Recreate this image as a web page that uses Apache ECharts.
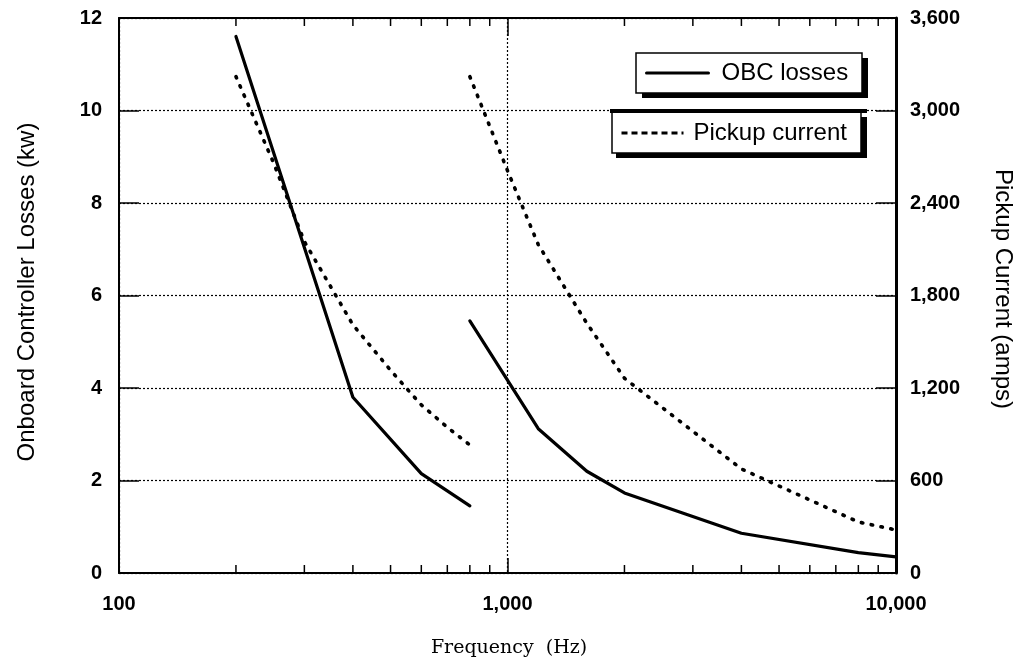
<!DOCTYPE html>
<html>
<head>
<meta charset="utf-8">
<script src="https://cdn.jsdelivr.net/npm/echarts@6/dist/echarts.min.js"></script>
<style>
  html, body { margin: 0; padding: 0; background: #fff; }
  #chart { width: 1023px; height: 663px; }
</style>
</head>
<body>
<div id="chart"></div>
<script>
// Onboard controller losses (kW) versus supply frequency (Hz), two operating bands
const obcFreqLow = [200, 400, 600, 800];
const obcLossLow = [11.6, 3.8, 2.15, 1.45];
const obcFreqHigh = [800, 1200, 1600, 2000, 4000, 8000, 10000];
const obcLossHigh = [5.45, 3.12, 2.2, 1.73, 0.86, 0.44, 0.35];

// Pickup current (amps) versus supply frequency (Hz), same two bands
const pickupFreqLow = [200, 250, 300, 400, 500, 600, 700, 800];
const pickupAmpsLow = [3220, 2660, 2150, 1610, 1315, 1090, 945, 830];
const pickupFreqHigh = [800, 1000, 1200, 1600, 2000, 4000, 8000, 10000];
const pickupAmpsHigh = [3220, 2610, 2130, 1620, 1263, 675, 331, 279];

// Intermediate decade ticks on the logarithmic frequency axis
const minorTickFreqs = [200, 300, 400, 500, 600, 700, 800, 900,
                        2000, 3000, 4000, 5000, 6000, 7000, 8000, 9000];

const seriesNames = ['OBC losses', 'Pickup current'];
const lossAxis = { min: 0, max: 12, interval: 2 };
const ampsAxis = { min: 0, max: 3600, interval: 600 };
const freqAxis = { min: 100, max: 10000 };

const zip = (xs, ys) => xs.map((x, i) => [x, ys[i]]);
const withCommas = v => Math.round(v).toLocaleString('en-US');

const FONT = '"Liberation Sans", Arial, sans-serif';
const tickFont = { fontFamily: FONT, fontWeight: 'bold', fontSize: 20, color: '#000' };
const dotted = { color: '#000', width: 1.2, type: [2, 2] };

const solidLine = { color: '#000', width: 3.2, type: 'solid', cap: 'round', join: 'round' };
const dashLine = { color: '#000', width: 3.6, type: [1.5, 8.5], cap: 'round', join: 'round' };

const chart = echarts.init(document.getElementById('chart'), null, { renderer: 'canvas' });

chart.setOption({
  animation: false,
  backgroundColor: '#fff',
  color: ['#000'],
  grid: { left: 119, right: 127, top: 18, bottom: 90, containLabel: false },
  xAxis: [
    {
      type: 'log', logBase: 10, min: freqAxis.min, max: freqAxis.max, position: 'bottom',
      axisLine: { show: true, onZero: false, lineStyle: { color: '#000', width: 2 } },
      axisTick: { show: true, inside: true, length: 15, lineStyle: { color: '#000', width: 1.5 } },
      axisLabel: { ...tickFont, margin: 21, formatter: withCommas },
      splitLine: { show: true, lineStyle: dotted },
      minorTick: { show: false }
    },
    {
      type: 'log', logBase: 10, min: freqAxis.min, max: freqAxis.max, position: 'top',
      axisLine: { show: true, onZero: false, lineStyle: { color: '#000', width: 2 } },
      axisTick: { show: true, inside: true, length: 18, lineStyle: { color: '#000', width: 1.5 } },
      axisLabel: { show: false },
      splitLine: { show: false }
    }
  ],
  yAxis: [
    {
      type: 'value', position: 'left', ...lossAxis,
      axisLine: { show: true, onZero: false, lineStyle: { color: '#000', width: 2 } },
      axisTick: { show: true, inside: true, length: 20, lineStyle: { color: '#000', width: 1.5 } },
      axisLabel: { ...tickFont, margin: 17 },
      splitLine: { show: true, lineStyle: dotted }
    },
    {
      type: 'value', position: 'right', ...ampsAxis,
      axisLine: { show: true, onZero: false, lineStyle: { color: '#000', width: 3 } },
      axisTick: { show: true, inside: true, length: 20, lineStyle: { color: '#000', width: 1.5 } },
      axisLabel: { ...tickFont, margin: 14, formatter: withCommas },
      splitLine: { show: false }
    }
  ],
  legend: [
    {
      data: [seriesNames[0]], left: 645, top: 59, padding: 0,
      itemWidth: 62, itemHeight: 14, z: 20,
      textStyle: { fontFamily: FONT, fontSize: 24, color: '#000', lineHeight: 28, padding: [0, 0, 0, 8] },
      itemStyle: { opacity: 0 },
      lineStyle: { width: 3, type: 'solid', color: '#000' }
    },
    {
      data: [seriesNames[1]], left: 620, top: 119, padding: 0,
      itemWidth: 62, itemHeight: 14, z: 20,
      textStyle: { fontFamily: FONT, fontSize: 24, color: '#000', lineHeight: 28, padding: [0, 0, 0, 5] },
      itemStyle: { opacity: 0 },
      lineStyle: { width: 3, type: [6, 4], cap: 'butt', color: '#000' }
    }
  ],
  graphic: [
    // framed legend boxes with a heavy drop shadow
    { type: 'rect', z: 10, shape: { x: 642, y: 58, width: 226, height: 40 }, style: { fill: '#000' } },
    { type: 'rect', z: 11, shape: { x: 636, y: 53, width: 226, height: 40 }, style: { fill: '#fff', stroke: '#000', lineWidth: 1.5 } },
    { type: 'rect', z: 10, shape: { x: 616, y: 117, width: 251, height: 41 }, style: { fill: '#000' } },
    { type: 'rect', z: 11, shape: { x: 612, y: 112, width: 249, height: 41 }, style: { fill: '#fff', stroke: '#000', lineWidth: 1.5 } },
    { type: 'rect', z: 12, shape: { x: 610, y: 109, width: 257, height: 4 }, style: { fill: '#000' } },
    // axis titles
    {
      type: 'text', x: 27, y: 292, rotation: Math.PI / 2, z: 5,
      style: { text: 'Onboard Controller Losses (kw)', fontFamily: FONT, fontSize: 24, fill: '#000',
               align: 'center', verticalAlign: 'middle', textAlign: 'center', textVerticalAlign: 'middle' }
    },
    {
      type: 'text', x: 1003, y: 289, rotation: -Math.PI / 2, z: 5,
      style: { text: 'Pickup Current (amps)', fontFamily: FONT, fontSize: 24, fill: '#000',
               align: 'center', verticalAlign: 'middle', textAlign: 'center', textVerticalAlign: 'middle' }
    },
    {
      type: 'text', x: 509, y: 648, z: 5,
      style: { text: 'Frequency  (Hz)', fontFamily: '"DejaVu Serif", "Liberation Serif", serif', fontSize: 19, fill: '#000',
               align: 'center', verticalAlign: 'middle', textAlign: 'center', textVerticalAlign: 'middle' }
    }
  ],
  series: [
    {
      name: seriesNames[0], type: 'line', xAxisIndex: 0, yAxisIndex: 0, color: '#000',
      data: zip(obcFreqLow, obcLossLow), symbol: 'none', lineStyle: solidLine, z: 5
    },
    {
      name: seriesNames[0], type: 'line', xAxisIndex: 0, yAxisIndex: 0, color: '#000',
      data: zip(obcFreqHigh, obcLossHigh), symbol: 'none', lineStyle: solidLine, z: 5
    },
    {
      name: seriesNames[1], type: 'line', xAxisIndex: 0, yAxisIndex: 1, color: '#000',
      data: zip(pickupFreqLow, pickupAmpsLow), symbol: 'none', lineStyle: dashLine, z: 5
    },
    {
      name: seriesNames[1], type: 'line', xAxisIndex: 0, yAxisIndex: 1, color: '#000',
      data: zip(pickupFreqHigh, pickupAmpsHigh), symbol: 'none', lineStyle: dashLine, z: 5
    },
    {
      // minor decade ticks along the bottom and top frequency axes
      type: 'custom', xAxisIndex: 0, yAxisIndex: 0, silent: true, clip: false, z: 4,
      data: minorTickFreqs.map(f => [f, 0]),
      encode: { x: 0, y: 1 },
      renderItem: function (params, api) {
        const cs = params.coordSys;
        const x = api.coord([api.value(0), 0])[0];
        const bottom = cs.y + cs.height;
        const top = cs.y;
        const st = { stroke: '#000', lineWidth: 1.5 };
        return {
          type: 'group',
          children: [
            { type: 'line', shape: { x1: x, y1: bottom, x2: x, y2: bottom - 8 }, style: st },
            { type: 'line', shape: { x1: x, y1: top, x2: x, y2: top + 8 }, style: st }
          ]
        };
      }
    }
  ]
});
</script>
</body>
</html>
